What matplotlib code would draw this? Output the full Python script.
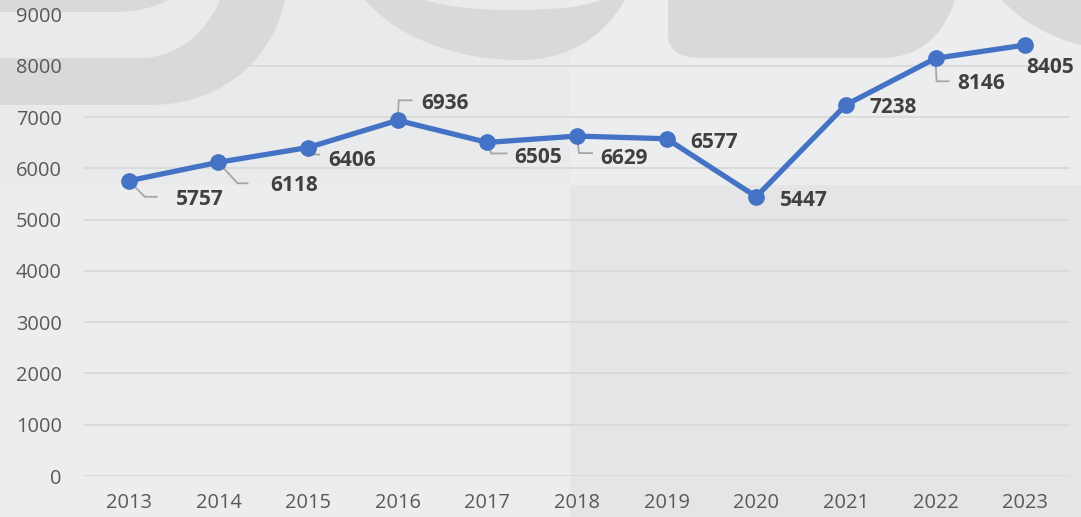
import matplotlib
matplotlib.use('Agg')
import matplotlib.pyplot as plt
from matplotlib.path import Path
from matplotlib.patches import PathPatch, Rectangle
from matplotlib.lines import Line2D
from matplotlib.transforms import IdentityTransform

# ---- data ----
years = ['2013', '2014', '2015', '2016', '2017', '2018', '2019', '2020', '2021', '2022', '2023']
values = [5757, 6118, 6406, 6936, 6505, 6629, 6577, 5447, 7238, 8146, 8405]
y_ticks = [0, 1000, 2000, 3000, 4000, 5000, 6000, 7000, 8000, 9000]

# ---- label layout (pixel offsets of label centre from point, y up) ----
label_offsets = [(71, -16), (76, -21), (44, -10), (47, 19), (51, -13), (47, -20),
                 (47, -1), (48, -1), (47, 0), (46, -23), (25, -20)]
# leader lines: (elbow dx, elbow dy, end dx) or None
leaders = [(16, -16, 28), (19, -21, 29), (1, -7, 11), (1, 20, 14), (4, -11, 19), (2, -17, 15),
           None, None, None, (1, -23, 13), None]

W, H = 1081, 517
plt.rcParams['font.family'] = ['Open Sans', 'DejaVu Sans']

fig = plt.figure(figsize=(W / 100, H / 100), dpi=100)
fig.patch.set_facecolor('#ECEDEF')


def P(x, y):
    return (x / W, 1 - y / H)


def add_shape(verts, codes, color):
    path = Path([P(*v) for v in verts], codes)
    fig.patches.append(PathPatch(path, facecolor=color, edgecolor='none',
                                 transform=fig.transFigure, zorder=-10))


# background panels
fig.patches.append(Rectangle(P(0, 185), 570 / W, 185 / H, transform=fig.transFigure,
                             facecolor='#E9EAEC', edgecolor='none', zorder=-11))
fig.patches.append(Rectangle(P(570, 517), (W - 570) / W, (517 - 185) / H, transform=fig.transFigure,
                             facecolor='#E5E5E7', edgecolor='none', zorder=-11))

wm = '#D9D9DB'
M, L, C, Z = Path.MOVETO, Path.LINETO, Path.CURVE4, Path.CLOSEPOLY
# S-like band (top left)
add_shape([(0, 105), (150, 105), (230, 105), (275, 50), (285, 0), (220, 0),
           (205, 35), (175, 58), (140, 58), (0, 58), (0, 105)],
          [M, L, C, C, C, L, C, C, C, L, Z], wm)
add_shape([(0, 0), (168, 0), (150, 10), (130, 12), (110, 12), (0, 12), (0, 0)],
          [M, L, C, C, C, L, Z], wm)
# bowl
add_shape([(365, 0), (400, 40), (460, 60), (520, 60), (570, 60), (605, 35), (625, 0),
           (600, 0), (580, 8), (550, 10), (510, 10), (470, 10), (440, 5), (425, 0), (365, 0)],
          [M, C, C, C, C, C, C, L, C, C, C, C, C, C, Z], wm)
# rounded rectangle
add_shape([(668, 0), (668, 35), (668, 50), (680, 58), (700, 58), (880, 58),
           (925, 58), (945, 30), (955, 0), (668, 0)],
          [M, L, C, C, C, L, C, C, C, Z], wm)
# right edge shape
add_shape([(1002, 0), (1020, 20), (1050, 38), (1081, 45), (1081, 0), (1002, 0)],
          [M, C, C, C, L, Z], wm)

ax = fig.add_axes([84 / W, 41 / H, (1070 - 84) / W, (476 - 14.5) / H])
ax.set_zorder(1)
ax.set_facecolor('none')
x = list(range(len(years)))
ax.set_xlim(-0.5, len(years) - 0.5)
ax.set_ylim(0, 9000)
ax.set_xticks(x)
ax.set_xticklabels(years)
ax.set_yticks(y_ticks)
ax.set_yticklabels([str(t) for t in y_ticks])
for s in ax.spines.values():
    s.set_visible(False)
ax.yaxis.grid(True, color='#D9D9D9', lw=1.3)
ax.set_axisbelow(True)
ax.tick_params(axis='both', length=0, labelsize=14.4, labelcolor='#595959')
ax.tick_params(axis='y', pad=16)
ax.tick_params(axis='x', pad=12)

ax.plot(x, values, color='#4472C4', lw=3.8, marker='o', ms=11, solid_joinstyle='round',
        solid_capstyle='round', zorder=3)

tr = ax.transData
for i, v in enumerate(values):
    dx, dy = label_offsets[i]
    ax.annotate(str(v), xy=(i, v), xytext=(dx, dy), textcoords='offset pixels',
                ha='center', va='center_baseline', fontsize=15, fontweight='bold',
                color='#404040', zorder=4)
    if leaders[i] is not None:
        ex, ey, end = leaders[i]
        px, py = tr.transform((i, v))
        ax.add_artist(Line2D([px, px + ex, px + end], [py, py + ey, py + ey],
                             transform=IdentityTransform(), color='#A6A6A6', lw=1.3,
                             zorder=2))

fig.savefig('out.png', dpi=100, facecolor=fig.get_facecolor())
